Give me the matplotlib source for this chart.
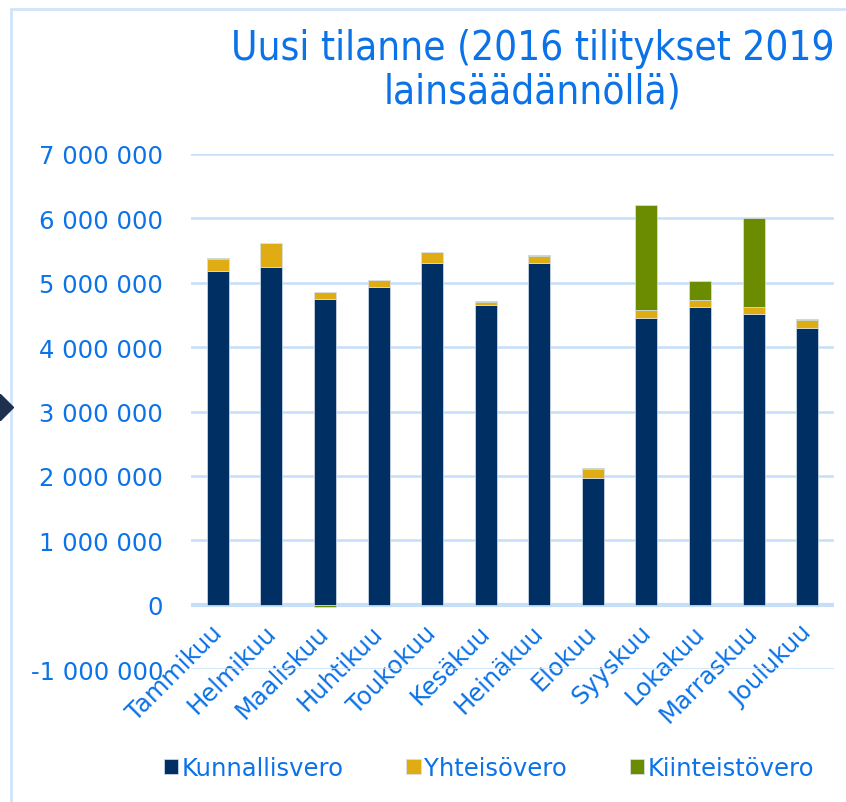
import numpy as np
import matplotlib.pyplot as plt
import matplotlib.transforms as mtransforms
from matplotlib.patches import Rectangle
from matplotlib.lines import Line2D
from matplotlib.ticker import FuncFormatter

months = ['Tammikuu', 'Helmikuu', 'Maaliskuu', 'Huhtikuu', 'Toukokuu', 'Kesäkuu',
          'Heinäkuu', 'Elokuu', 'Syyskuu', 'Lokakuu', 'Marraskuu', 'Joulukuu']

kunnallisvero = [5190000, 5250000, 4740000, 4940000, 5300000, 4650000,
                 5300000, 1970000, 4460000, 4620000, 4510000, 4290000]
yhteisovero = [180000, 370000, 110000, 100000, 170000, 50000,
               120000, 130000, 110000, 110000, 110000, 130000]
kiinteistovero = [20000, 5000, -40000, 10000, 10000, 10000,
                  5000, 30000, 1630000, 300000, 1380000, 20000]

blue_txt = '#0B72E7'
grid_c = '#C6DEF8'
c_navy = '#002F63'
c_yel = '#E0AC14'
c_grn = '#6B8C00'

fig = plt.figure(figsize=(8.46, 8.03), dpi=100)
ax = fig.add_axes([0.2258, 0.1656, 0.7600, 0.6414])

x = np.arange(len(months))
w = 0.41
series = [(kunnallisvero, c_navy, 'Kunnallisvero'),
          (yhteisovero, c_yel, 'Yhteisövero'),
          (kiinteistovero, c_grn, 'Kiinteistövero')]
pos = np.zeros(len(months))
neg = np.zeros(len(months))
for vals, col, lab in series:
    v = np.array(vals, dtype=float)
    bottom = np.where(v >= 0, pos, neg)
    ax.bar(x, v, w, bottom=bottom, color=col, label=lab,
           edgecolor='#D8E2EE', linewidth=0.5, zorder=3)
    pos = pos + np.clip(v, 0, None)
    neg = neg + np.clip(v, None, 0)

ax.set_xlim(-0.5, len(months) - 0.5)
ax.set_ylim(-1000000, 7000000)
ax.set_yticks(np.arange(-1000000, 7000001, 1000000))
ax.yaxis.set_major_formatter(FuncFormatter(lambda v, p: f'{int(v):,}'.replace(',', ' ')))
ax.grid(axis='y', color=grid_c, linewidth=1.8, zorder=0)
ax.axhline(0, color=grid_c, linewidth=3, zorder=2)
ax.spines['bottom'].set_position(('data', 0))
for s in ax.spines.values():
    s.set_visible(False)
ax.tick_params(axis='both', length=0, labelsize=17.5, labelcolor=blue_txt)
ax.tick_params(axis='y', pad=20)
ax.set_xticks(x)
ax.set_xticklabels(months, rotation=45, ha='right', rotation_mode='anchor')
ax.tick_params(axis='x', pad=11)
shift = mtransforms.ScaledTranslation(-0.08, 0, fig.dpi_scale_trans)
for lbl in ax.get_xticklabels():
    lbl.set_transform(lbl.get_transform() + shift)

fig.text(0.63, 0.912, 'Uusi tilanne (2016 tilitykset 2019\nlainsäädännöllä)',
         ha='center', va='center', fontsize=29, color=blue_txt,
         family='DejaVu Sans', fontstretch='condensed', linespacing=1.1)

fig.legend(loc='center', bbox_to_anchor=(0.578, 0.042), ncol=3, frameon=False,
           fontsize=17.5, labelcolor=blue_txt, handlelength=0.58, handleheight=0.58,
           handletextpad=0.15, columnspacing=2.6)

fig.patches.append(Rectangle((11 / 846, -0.1), 1.2, 1.1 - 10 / 803, transform=fig.transFigure,
                             fill=False, edgecolor='#CFE3FA', linewidth=2))
fig.lines.append(Line2D([0.0], [1 - 408 / 803], transform=fig.transFigure, marker='D',
                        markersize=13, color='#1F2F4F', linestyle='none'))

fig.savefig('out.png', dpi=100)
